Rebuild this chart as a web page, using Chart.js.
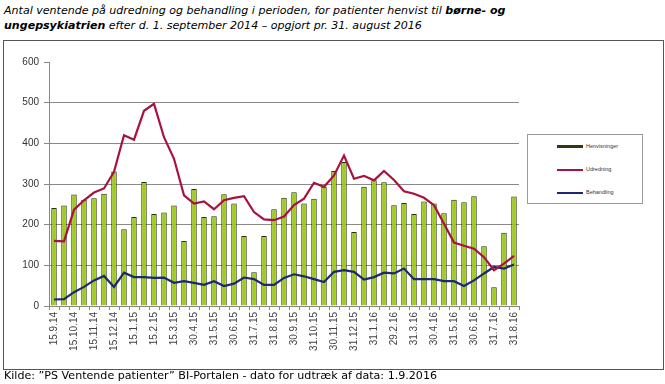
<!DOCTYPE html>
<html>
<head>
	<title>Ventende patienter</title>
	<script src="https://cdn.jsdelivr.net/npm/chart.js"></script>
	<style>
		body { margin: 0; background: #fff; width: 665px; height: 384px; overflow: hidden; position: relative; }
		#title {
			position: absolute; left: 4px; top: 3px;
			font: italic 11.05px "DejaVu Sans", sans-serif; line-height: 15px; color: #000;
		}
		#frame { position: absolute; left: 3px; top: 40px; width: 659px; height: 328px; border: 1px solid #555; }
		#footer { position: absolute; left: 4px; top: 369px; font: 11.1px "DejaVu Sans", sans-serif; color: #000; }
		#chartBox { position: absolute; left: 0; top: 0; width: 665px; height: 384px; }
		#legend {
			position: absolute; left: 527px; top: 134px; width: 114px; height: 68px;
			border: 1px solid #9a9a9a; background: #fff;
		}
		.item { position: absolute; left: 29px; font: 5.5px Arial, sans-serif; color: #333; }
		.item span { display: inline-block; width: 26px; vertical-align: middle; margin-right: 3px; }
	</style>
</head>
<body>
	<div id="title">Antal ventende på udredning og behandling i perioden, for patienter henvist til <b>børne- og<br>ungepsykiatrien</b> efter d. 1. september 2014 – opgjort pr. 31. august 2016</div>
	<div id="frame"></div>
	<div id="chartBox"><canvas id="myChart" width="665" height="384"></canvas></div>
	<div id="legend">
		<div class="item" style="top:8px"><span style="height:3px;background:#2f3a12"></span>Henvisninger</div>
		<div class="item" style="top:31px"><span style="height:2px;background:#a8123e"></span>Udredning</div>
		<div class="item" style="top:54px"><span style="height:2px;background:#1a2a6c"></span>Behandling</div>
	</div>
	<div id="footer">Kilde: ”PS Ventende patienter” BI-Portalen - dato for udtræk af data: 1.9.2016</div>
	<script>
		// datoer (hver anden vises paa aksen)
		const dates = [
			'15.9.14', '30.9.14', '15.10.14', '31.10.14', '15.11.14', '30.11.14', '15.12.14', '31.12.14',
			'15.1.15', '31.1.15', '15.2.15', '28.2.15', '15.3.15', '15.4.15', '30.4.15', '15.5.15',
			'31.5.15', '15.6.15', '30.6.15', '15.7.15', '31.7.15', '15.8.15', '31.8.15', '15.9.15',
			'30.9.15', '15.10.15', '31.10.15', '15.11.15', '30.11.15', '15.12.15', '31.12.15', '15.1.16',
			'31.1.16', '15.2.16', '29.2.16', '15.3.16', '31.3.16', '15.4.16', '30.4.16', '15.5.16',
			'31.5.16', '15.6.16', '30.6.16', '15.7.16', '31.7.16', '15.8.16', '31.8.16'
		];
		const henvisninger = [
			241, 247, 274, 261, 265, 276, 331, 189, 219, 305, 226, 230, 247, 160, 288, 219,
			221, 275, 252, 172, 83, 172, 238, 266, 280, 252, 264, 293, 332, 354, 182, 293,
			309, 304, 248, 253, 226, 257, 252, 228, 261, 255, 270, 147, 46, 180, 269
		];
		const udredning = [
			160, 159, 237, 260, 279, 289, 330, 420, 409, 480, 497, 415, 362, 272, 252, 257,
			238, 260, 266, 270, 231, 213, 211, 220, 248, 264, 303, 293, 321, 370, 313, 320,
			309, 332, 310, 282, 276, 266, 248, 202, 156, 148, 141, 120, 88, 104, 123
		];
		const behandling = [
			16, 17, 34, 47, 63, 74, 47, 82, 71, 71, 69, 70, 57, 61, 57, 52,
			61, 49, 55, 70, 66, 52, 52, 69, 78, 73, 66, 59, 84, 88, 84, 65,
			71, 82, 80, 92, 66, 66, 66, 61, 61, 49, 63, 80, 96, 92, 102
		];
		const yTicks = [0, 100, 200, 300, 400, 500, 600];

		const ctx = document.getElementById('myChart').getContext('2d');
		const myChart = new Chart(ctx, {
			type: 'bar',
			data: {
				labels: dates,
				datasets: [{
					type: 'line',
					label: 'Udredning',
					data: udredning,
					borderColor: '#a8123e',
					borderWidth: 2.2,
					pointRadius: 0,
					tension: 0,
					order: 1
				}, {
					type: 'line',
					label: 'Behandling',
					data: behandling,
					borderColor: '#1a2a6c',
					borderWidth: 2.2,
					pointRadius: 0,
					tension: 0,
					order: 1
				}, {
					label: 'Henvisninger',
					data: henvisninger,
					backgroundColor: '#9fcc1a',
					borderColor: '#26300a',
					borderWidth: 1,
					categoryPercentage: 1,
					barPercentage: 0.55,
					order: 2
				}]
			},
			options: {
				responsive: false,
				animation: false,
				layout: { padding: { top: 62, right: 146, left: 0, bottom: 0 } },
				plugins: { legend: { display: false }, tooltip: { enabled: false } },
				scales: {
					x: {
						afterFit: s => { s.height = 78; },
						grid: { drawOnChartArea: false, tickLength: 4, color: '#888' },
						border: { color: '#888' },
						ticks: {
							autoSkip: false, maxRotation: 90, minRotation: 90, padding: 2,
							color: '#444', font: { family: 'Arial', size: 10 },
							callback: (v, i) => i % 2 === 0 ? dates[i] : ''
						}
					},
					y: {
						min: 0, max: 600,
						afterFit: s => { s.width = 49; },
						afterBuildTicks: s => { s.ticks = yTicks.map(v => ({ value: v })); },
						grid: {
							color: c => c.tick && c.tick.value === 600 ? 'rgba(0,0,0,0)' : '#8a8a8a',
							tickColor: '#888', tickLength: 5
						},
						border: { color: '#888' },
						ticks: { padding: 5, color: '#333', font: { family: 'Arial', size: 10 } }
					}
				}
			}
		});
	</script>
</body>
</html>
